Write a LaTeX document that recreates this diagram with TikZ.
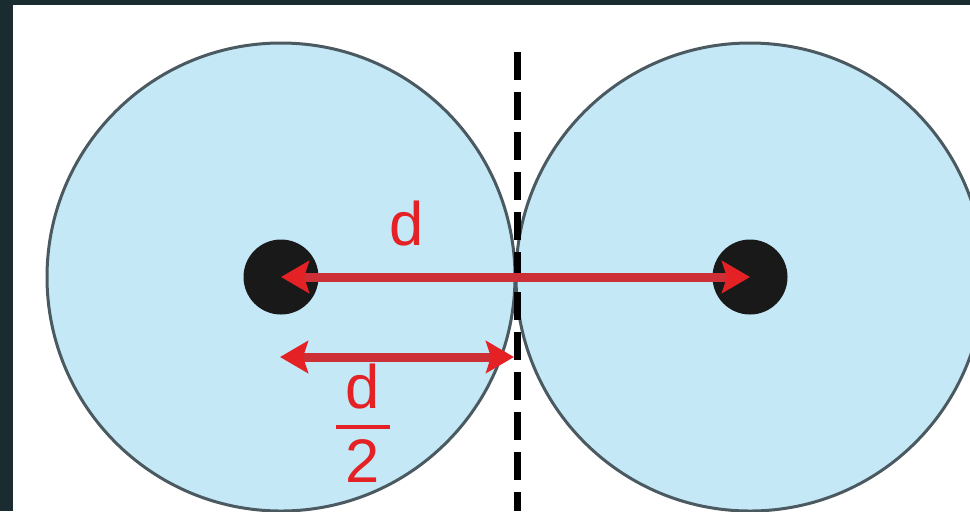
\documentclass[tikz,border=0pt]{standalone}
\usepackage{amsmath}
\usepackage{fontspec}
\setmainfont{Liberation Sans}
\usepackage{xcolor}
\usetikzlibrary{arrows.meta,positioning}

\definecolor{frame}{RGB}{26,44,48}
\definecolor{ballblue}{RGB}{197,232,247}
\definecolor{rim}{RGB}{75,90,96}
\definecolor{arrred}{RGB}{228,34,38}
\definecolor{linered}{RGB}{204,48,54}

\begin{document}
\begin{tikzpicture}[x=0.2mm, y=-0.2mm,
                      ball/.style={fill=ballblue, draw=rim, line width=0.6mm},
                      dot/.style={circle, fill=black!90, inner sep=0pt, minimum size=15mm},
                      lbl/.style={text=arrred, font=\fontsize{35}{40}\selectfont},
                      redtip/.tip={Stealth[length=5.6mm, width=6.4mm, inset=1mm, color=arrred]},
                      arr/.style={redtip-redtip, line width=1.8mm, draw=linered},
                      sep/.style={line width=1.4mm, dash pattern=on 5.6mm off 2.4mm}]
    \useasboundingbox (0,0) rectangle (970,511);
    \fill[frame] (0,0) rectangle (970,511);
    \fill[white] (13,5) rectangle (970,511);

    \begin{scope}
      \clip (13,5) rectangle (970,511);
      \draw[ball] (281,277) circle[radius=234];
      \draw[ball] (750,277) circle[radius=234];
    \end{scope}

    \node[dot] (left) at (281,277) {};
    \node[dot] (right) at (750,277) {};
    \coordinate (top) at (517,52);
    \coordinate (bottom) at (517,511);
    \draw[sep] (top) -- (bottom);

    % half distance, from centre to the contact line
    \coordinate (hstart) at (280,357);
    \coordinate (hend) at (514,357);

    \draw[arr] (left.center) -- (right.center);
    \draw[arr] (hstart) -- (hend);

    \node[lbl] (dlabel) at (407,224) {d};
    \node[lbl] (halflabel) at (363,423) {$\genfrac{}{}{2pt}{0}{\text{\,d\,}}{\text{2}}$};
  \end{tikzpicture}
\end{document}
